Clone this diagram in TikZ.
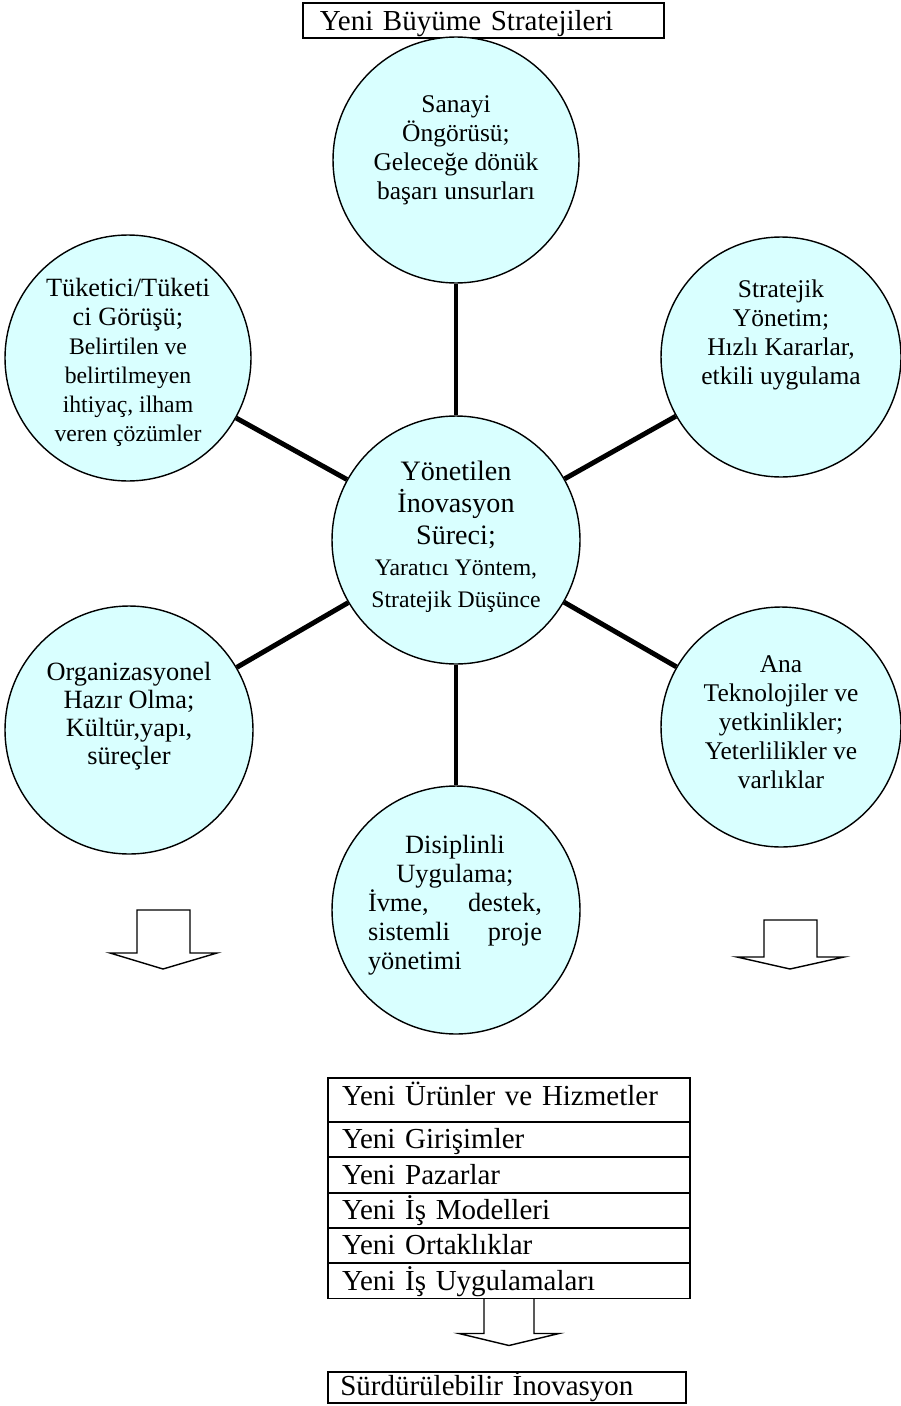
\documentclass[tikz,border=0pt]{standalone}
\usepackage{fontspec}
\setmainfont{Liberation Serif}
\usetikzlibrary{positioning,calc}
\definecolor{bubblecyan}{HTML}{D9FFFF}
\newcommand\bubsmall{\fontsize{13.5}{16.5}\selectfont}

\tikzset{
  bubble/.style={circle, draw, line width=0.8pt, fill=bubblecyan, inner sep=0pt},
  bubtext/.style={align=center, inner sep=0pt, font=\fontsize{14.5}{16.5}\selectfont},
  spoke/.style={line width=2.8pt},
  listrow/.style={draw, line width=1.1pt, inner xsep=8pt, inner ysep=0pt, outer sep=0pt,
    text width=190pt, align=left, font=\fontsize{16.5}{19}\selectfont,
    text height=15.3pt, text depth=4.8pt},
  blockarrow/.style={line width=0.8pt, line join=miter},
}

\begin{document}
\begin{tikzpicture}[x=0.02cm, y=-0.02cm]
\useasboundingbox (0,0) rectangle (900,1406);

% Title box
\node[listrow, text width=186pt, inner xsep=9.6pt, text height=15.8pt, text depth=4pt,
  anchor=north west] (baslik) at (303,3) {Yeni Büyüme Stratejileri};

% Circles (centre + six around it)
\node[bubble, minimum size=4.96cm] (inovasyon)    at (456,540) {};
\node[bubble, minimum size=4.92cm] (sanayi)       at (456,160) {};
\node[bubble, minimum size=4.92cm] (tuketici)     at (128,358) {};
\node[bubble, minimum size=4.80cm] (stratejik)    at (781,357) {};
\node[bubble, minimum size=4.96cm] (organizasyon) at (129,730) {};
\node[bubble, minimum size=4.80cm] (teknoloji)    at (781,727) {};
\node[bubble, minimum size=4.96cm] (uygulama)     at (456,910) {};

% Circle texts
\node[bubtext, font=\fontsize{16}{18}\selectfont] (inovasyonT) at (456,537)
  {Yönetilen\\İnovasyon\\Süreci;\\\bubsmall Yaratıcı Yöntem,\\\bubsmall Stratejik Düşünce};
\node[bubtext] (sanayiT) at (456,150)
  {Sanayi\\Öngörüsü;\\Geleceğe dönük\\başarı unsurları};
\node[bubtext, font=\fontsize{15}{16.5}\selectfont] (tuketiciT) at (128,362)
  {Tüketici/Tüketi\\ci Görüşü;\\\bubsmall Belirtilen ve\\\bubsmall belirtilmeyen\\
   \bubsmall ihtiyaç, ilham\\\bubsmall veren çözümler};
\node[bubtext] (stratejikT) at (781,335)
  {Stratejik\\Yönetim;\\Hızlı Kararlar,\\etkili uygulama};
\node[bubtext, font=\fontsize{15}{16}\selectfont] (organizasyonT) at (129,716)
  {Organizasyonel\\Hazır Olma;\\Kültür,yapı,\\süreçler};
\node[bubtext] (teknolojiT) at (781,722)
  {Ana\\Teknolojiler ve\\yetkinlikler;\\Yeterlilikler ve\\varlıklar};
\node[bubtext, font=\fontsize{15}{16.5}\selectfont] (uygulamaT) at (455,905)
  {Disiplinli\\Uygulama;\\\makebox[3.48cm][s]{İvme, destek,}\\\makebox[3.48cm][s]{sistemli proje}\\\makebox[3.48cm][l]{yönetimi}};

% Spokes
\foreach \outer in {sanayi,stratejik,teknoloji,uygulama,organizasyon,tuketici}
  \draw[spoke] (inovasyon) -- (\outer);

% Side down arrows
\foreach \ax/\ya/\yb in {163/910/953, 790/920/957}
  \draw[blockarrow] (\ax-26,\ya) -- (\ax+27,\ya) -- (\ax+27,\yb) -- (\ax+54,\yb)
    -- (\ax,969) -- (\ax-53,\yb) -- (\ax-26,\yb) -- cycle;

% Result list
\node[listrow, text height=15.4pt, text depth=9.6pt, anchor=north west] (row1) at (328,1078)
  {Yeni Ürünler ve Hizmetler};
\foreach \i/\txt [count=\j from 1] in {2/Yeni Girişimler, 3/Yeni Pazarlar,
    4/Yeni İş Modelleri, 5/Yeni Ortaklıklar, 6/Yeni İş Uygulamaları}
  \node[listrow, below=0pt of row\j] (row\i) {\txt};

% Arrow down to the final box
\draw[blockarrow] ($(row6.south)+(-25,0)$) -- ++(0,35) -- ++(-25,0)
  -- ($(row6.south)+(0,47)$) -- ++(50,-12) -- ++(-25,0) -- ++(0,-35);

\node[listrow, text width=190pt, inner xsep=7pt, text height=13.1pt, text depth=4.5pt,
  anchor=north west] (surdurulebilir) at (328,1372) {Sürdürülebilir İnovasyon};

\end{tikzpicture}
\end{document}
